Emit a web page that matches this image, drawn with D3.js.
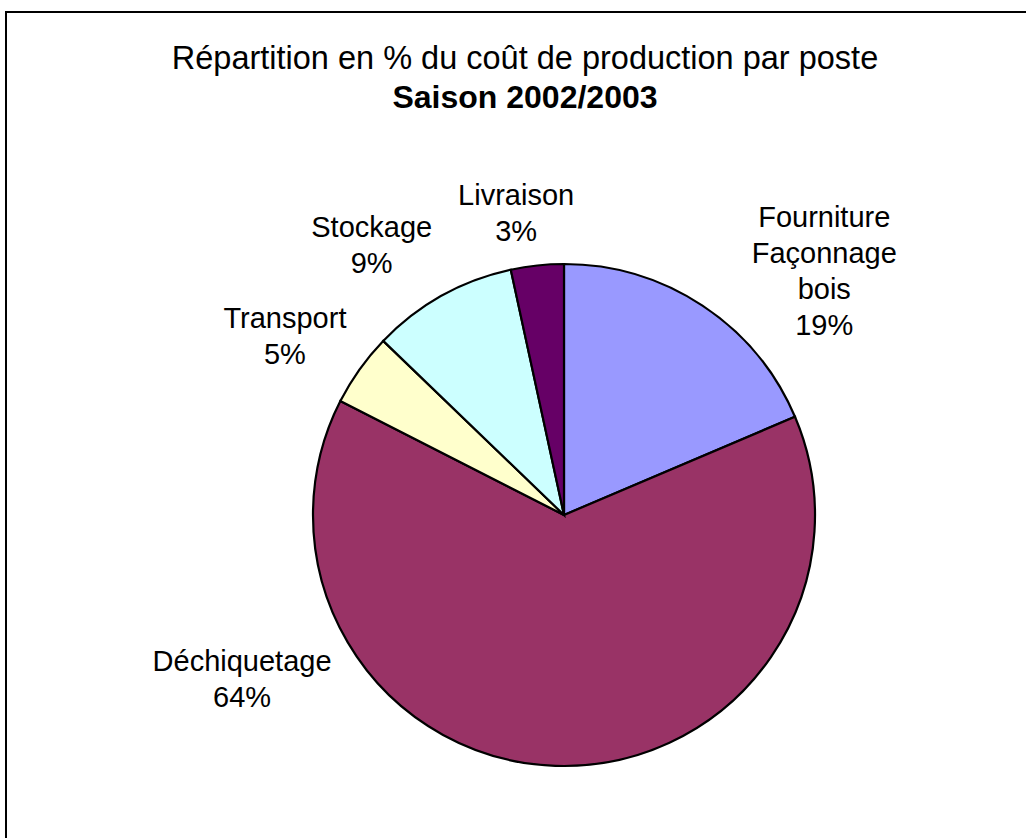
<!DOCTYPE html>
<head>
  <meta charset="utf-8">
  <script src="https://d3js.org/d3.v7.min.js"></script>
  <style>
    body { margin:0; background:#fff; }
    text { font-family: "Liberation Sans", Arial, sans-serif; fill:#000; }
    .slice { stroke:#000; stroke-width:2.2; }
  </style>
</head>

<body>
  <script>
    // data (percent of production cost)
    var postes = ['Fourniture Façonnage bois', 'Déchiquetage', 'Transport', 'Stockage', 'Livraison'];
    var labelLines = [['Fourniture', 'Façonnage', 'bois'], ['Déchiquetage'], ['Transport'], ['Stockage'], ['Livraison']];
    var parts = [18.6, 63.9, 4.7, 9.4, 3.4];
    var couleurs = ['#9999FF', '#993366', '#FFFFCC', '#CCFFFF', '#660066'];
    var titre = 'Répartition en % du coût de production par poste';
    var sousTitre = 'Saison 2002/2003';

    var width = 1026, height = 838;
    var cx = 564, cy = 515, radius = 251;
    // where excel dropped each label : [angle in degrees from 12 o'clock, distance from centre]
    var labelPlacement = [[46.8, 357], [243.1, 361], [302.8, 332], [324.6, 332], [351, 306]];
    var fontSize = 29, lineGap = 36;

    var svg = d3.select('body').append('svg')
      .attr('width', width)
      .attr('height', height);

    // chart frame, it runs off the right and bottom of the shot
    svg.append('rect')
      .attr('x', 6).attr('y', 12)
      .attr('width', width + 20).attr('height', height + 20)
      .attr('fill', 'none')
      .attr('stroke', '#000')
      .attr('stroke-width', 2);

    svg.append('text')
      .attr('x', 525).attr('y', 69)
      .attr('text-anchor', 'middle')
      .style('font-size', '32.5px')
      .text(titre);

    svg.append('text')
      .attr('x', 525).attr('y', 108)
      .attr('text-anchor', 'middle')
      .style('font-size', '32px')
      .style('font-weight', 'bold')
      .text(sousTitre);

    var data = postes.map(function(p, i){
      return {poste: p, value: parts[i], color: couleurs[i], lines: labelLines[i], place: labelPlacement[i]};
    });

    var pie = d3.pie().sort(null).value(function(d){ return d.value; });
    var arc = d3.arc().innerRadius(0).outerRadius(radius);

    var g = svg.append('g').attr('transform', 'translate(' + cx + ',' + cy + ')');

    g.selectAll('.slice')
      .data(pie(data))
      .enter().append('path')
      .attr('class', 'slice')
      .attr('d', arc)
      .attr('fill', function(d){ return d.data.color; });

    var labels = g.selectAll('.lbl')
      .data(pie(data))
      .enter().append('text')
      .attr('class', 'lbl')
      .attr('text-anchor', 'middle')
      .style('font-size', fontSize + 'px')
      .attr('transform', function(d){
        var p = d3.pointRadial(d.data.place[0] * Math.PI / 180, d.data.place[1]);
        return 'translate(' + p[0] + ',' + p[1] + ')';
      });

    labels.each(function(d){
      var lines = d.data.lines.concat([Math.round(d.data.value) + '%']);
      var n = lines.length;
      // block centred vertically: first cap top to last baseline
      var capH = fontSize * 0.716;
      var total = (n - 1) * lineGap + capH;
      var y0 = -total / 2 + capH;
      d3.select(this).selectAll('tspan')
        .data(lines)
        .enter().append('tspan')
        .attr('x', 0)
        .attr('y', function(l, i){ return y0 + i * lineGap; })
        .text(function(l){ return l; });
    });
  </script>
</body>
